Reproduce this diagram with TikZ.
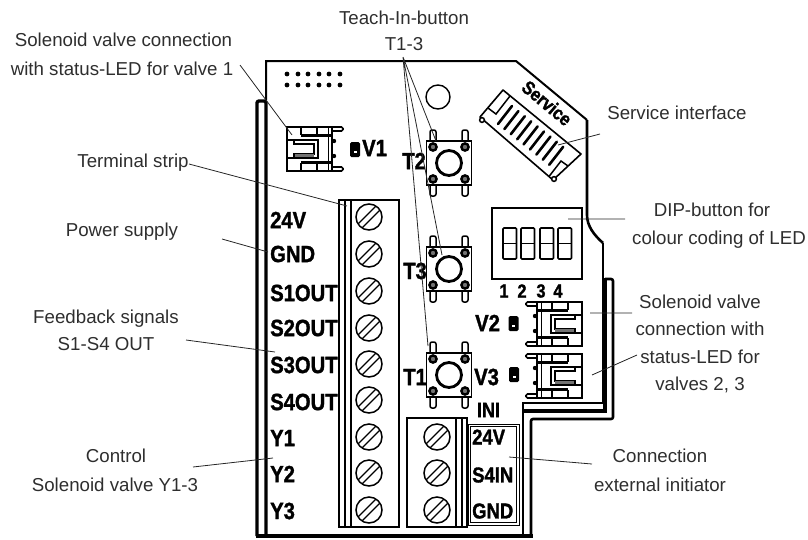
\documentclass[tikz,border=0pt]{standalone}
\usepackage{fontspec}
\setmainfont{Liberation Sans}
\newfontfamily\labfont[BoldFeatures={FakeStretch=0.86,FakeBold=1.4}]{Liberation Sans}
\definecolor{notecol}{HTML}{2E2E2E}
\newcommand{\notesize}{\fontsize{18.7}{18.7}\selectfont}
\tikzset{
  note/.style={font=\notesize,text=notecol,inner sep=0pt,anchor=center},
  leader/.style={draw=black!85,line width=0.8pt},
  lab/.style={font=\labfont\bfseries\fontsize{23.5}{23.5}\selectfont,inner sep=0pt,anchor=west,text=black},
  labsmall/.style={font=\labfont\bfseries\fontsize{21}{21}\selectfont,inner sep=0pt,anchor=center,text=black},
  thinedge/.style={line width=2pt,line join=miter},
  thickedge/.style={line width=3.4pt,line join=round},
  screw/.pic={
    \draw[line width=1.5pt] (0,0) circle[radius=13pt];
    \draw[line width=1.3pt] (-7,11)--(11,-7) (-11,7)--(7,-11);
  },
  tactile/.pic={
    \foreach \sx in {-16,16}{
      \draw[line width=1.5pt,fill=white,rounded corners=2pt] (\sx-3,-33) rectangle (\sx+3,-20);
      \draw[line width=1.5pt,fill=white,rounded corners=2pt] (\sx-3,20) rectangle (\sx+3,33);
    }
    \draw[line width=1.8pt,fill=white] (-22.5,-22) rectangle (22.5,22);
    \draw[line width=2.8pt] (0,0) circle[radius=12.5pt];
    \foreach \sx in {-16,16}\foreach \sy in {-16,16}
      \draw[line width=2.4pt,fill=black!55] (\sx,\sy) circle[radius=3.6pt];
  },
  valve/.pic={
    \draw[line width=1.6pt,rounded corners=1.5pt] (45,0)--(56,0)--(56,4)--(45,4);
    \draw[line width=1.6pt,rounded corners=1.5pt] (45,40)--(56,40)--(56,44)--(45,44);
    \fill (47,14) circle[radius=2.2pt] (47,29) circle[radius=2.2pt];
    \draw[line width=1.8pt] (0,0) rectangle (45,44);
    \draw[line width=1pt] (41,0)--(41,44);
    \draw[line width=1.6pt] (14,0)--(14,8) (14,44)--(14,36);
    \draw[line width=2.6pt] (14,8.5)--(45,8.5) (14,35.5)--(45,35.5);
    \draw[line width=1.6pt] (30,0)--(30,8) (30,36)--(30,44);
    \draw[line width=1.8pt] (0,13)--(31,13)--(31,31)--(0,31);
    \draw[line width=1.6pt] (7,13)--(7,17)--(27,17)--(27,27)--(7,27)--(7,31);
    \fill[black!55] (8,26.5) rectangle (27,29.5);
  },
  ledsq/.pic={
    \fill[rounded corners=1.5pt] (-5,-7.5) rectangle (5,7.5);
    \fill[white] (-1.5,1) rectangle (1.5,3.5);
  },
  dipcell/.pic={
    \draw[line width=1.7pt,rounded corners=1pt] (0,0) rectangle (13.5,31);
    \draw[line width=1.7pt] (0,15.5)--(13.5,15.5);
  }
}
\begin{document}
\begin{tikzpicture}[x=1pt,y=-1pt]
\useasboundingbox (0,0) rectangle (808,539);

% board outline
\draw[thinedge] (266,100)--(266,61)--(516,61)--(587,120);
\draw[line width=2.6pt] (587,120)--(587,215) .. controls (587,226) and (594,235) .. (603,243);
\draw[line width=1.7pt] (603,243)--(603,403)--(523,403)--(523,536);
\draw[thickedge,rounded corners=2pt] (257,536)--(257,101)--(266,101)--(266,536);
\draw[line width=4pt] (255.5,536)--(533,536);
\draw[line width=2.6pt,rounded corners=2pt] (605,279)--(613,279)--(613,419)--(531,419)--(531,536);
\draw[line width=3.4pt] (605,278)--(605,411)--(523,411);

% terminals
\node[draw,line width=1.8pt,minimum width=60pt,minimum height=327pt,inner sep=0pt] (strip) at (369,363.5) {};
\draw[line width=1.6pt] (345,200)--(345,527) (351,200)--(351,527);
\node[draw,line width=1.8pt,minimum width=60pt,minimum height=109pt,inner sep=0pt] (ext) at (437,472.5) {};
\draw[line width=1.6pt] (456,418)--(456,527) (462,418)--(462,527);
\foreach \cy in {217,254,291,328,364,400,437,473,510} \pic at (369,\cy) {screw};
\foreach \cy in {437,473,510} \pic at (437,\cy) {screw};

% INI box
\node[draw,line width=1pt,minimum width=51pt,minimum height=101pt,inner sep=0pt] (inibox) at (493.5,474.5) {};
\draw[line width=1pt] (470.5,426.5) rectangle (516.5,522.5);

% labels left
\foreach \t/\yy in {24V/220,GND/254,S1OUT/293,S2OUT/328,S3OUT/365,S4OUT/402,Y1/438,Y2/474,Y3/511}
  \node[lab] (L\t) at (270,\yy) {\t};
\node[lab,font=\labfont\bfseries\fontsize{21.5}{21.5}\selectfont] (R24V) at (472,437) {24V};
\node[lab,font=\labfont\bfseries\fontsize{21.5}{21.5}\selectfont] (RS4IN) at (472,475) {S4IN};
\node[lab,font=\labfont\bfseries\fontsize{21.5}{21.5}\selectfont] (RGND) at (472,511) {GND};

% buttons
\pic at (449,163) {tactile};
\pic at (449,269) {tactile};
\pic at (449,375) {tactile};
\node[lab] (T2) at (402,161) {T2};
\node[lab] (T3) at (403,271) {T3};
\node[lab] (T1) at (403,377) {T1};

% small things top
\draw[line width=1.4pt] (438,97) circle[radius=12pt];
\foreach \xx in {287,298,308,319,329,340}\foreach \yy in {74,85} \fill (\xx,\yy) circle[radius=2.4pt];

% valves
\pic at (287,127) {valve};
\pic[xscale=-1] at (582,302) {valve};
\pic[xscale=-1] at (582,354) {valve};
\pic at (355,149.5) {ledsq};
\pic at (513.5,323.5) {ledsq};
\pic at (514,374.5) {ledsq};
\node[lab] (V1) at (362,148) {V1};
\node[lab] (V2) at (475,323) {V2};
\node[lab] (V3) at (474,377) {V3};
\node[labsmall] (INI) at (488.5,410) {INI};

% DIP
\node[draw,line width=1.8pt,minimum width=90pt,minimum height=71pt,inner sep=0pt] (dip) at (537,243.5) {};
\foreach \xx in {503,521,540,558} \pic at (\xx,228) {dipcell};
\foreach \t/\xx in {1/504,2/522,3/541,4/558}
  \node[labsmall,font=\labfont\bfseries\fontsize{19}{19}\selectfont] (D\t) at (\xx,291) {\t};

% service connector
\draw[line width=1.6pt,line join=round] (503,90)--(581,154)--(553,180)--(480,117)--cycle;
\draw[line width=1.5pt] (510,96)--(496,114)--(488,108);
\draw[line width=1.5pt] (568,166)--(561,161)--(549,176.5);
\draw[line width=1.5pt,fill=white] (482,120) circle[radius=2.4pt] (554,179) circle[radius=2.4pt];
\foreach \i in {0,...,8}
  \draw[line width=2.6pt,line cap=round] (512+6.4*\i,106+5.1*\i)--(498+6.4*\i,124+5.1*\i);
\node[inner sep=0pt,rotate=-40,font=\labfont\bfseries\fontsize{19}{19}\selectfont] (svc) at (547,103) {Service};

% annotation text
\node[note] (a1) at (123.5,40) {Solenoid valve connection};
\node[note] (a2) at (122,69) {with status-LED for valve 1};
\node[note] (a3) at (404,18) {Teach-In-button};
\node[note] (a4) at (404,44) {T1-3};
\node[note] (a5) at (133,163) {Terminal strip};
\node[note] (a6) at (122,232) {Power supply};
\node[note] (a7) at (106,319) {Feedback signals};
\node[note] (a8) at (106,344) {S1-S4 OUT};
\node[note] (a9) at (116,456) {Control};
\node[note] (a10) at (115,485) {Solenoid valve Y1-3};
\node[note] (a11) at (677,113) {Service interface};
\node[note] (a12) at (712,210) {DIP-button for};
\node[note] (a13) at (719,240) {colour coding of LED};
\node[note] (a14) at (700,302) {Solenoid valve};
\node[note] (a15) at (700,329) {connection with};
\node[note] (a16) at (700,357) {status-LED for};
\node[note] (a17) at (700,385) {valves 2, 3};
\node[note] (a18) at (660,456) {Connection};
\node[note] (a19) at (660,485) {external initiator};

% leaders
\coordinate (apex) at (403,57);
\coordinate (eT2) at (436,141);
\coordinate (eT3) at (442,255);
\coordinate (eT1) at (428,346);
\draw[leader] (apex)--(eT2) (apex)--(eT3) (apex)--(eT1);
\coordinate (s1) at (240,65); \coordinate (e1) at (292,135);
\coordinate (s2) at (189,164); \coordinate (e2) at (347,206);
\coordinate (s3) at (222,239); \coordinate (e3) at (268,252);
\coordinate (s4) at (186,340); \coordinate (e4) at (275,352);
\coordinate (s5) at (193,467); \coordinate (e5) at (273,458);
\coordinate (s6) at (600,134); \coordinate (e6) at (558,145);
\coordinate (s7) at (625,219); \coordinate (e7) at (568,219);
\coordinate (s8) at (632,313); \coordinate (e8) at (590,313);
\coordinate (s9) at (637,355); \coordinate (e9) at (592,375);
\coordinate (s10) at (592,464); \coordinate (e10) at (509,457);
\draw[leader] (s1)--(e1) (s2)--(e2) (s3)--(e3) (s4)--(e4) (s5)--(e5) (s6)--(e6) (s7)--(e7) (s8)--(e8) (s9)--(e9) (s10)--(e10);
\end{tikzpicture}
\end{document}
